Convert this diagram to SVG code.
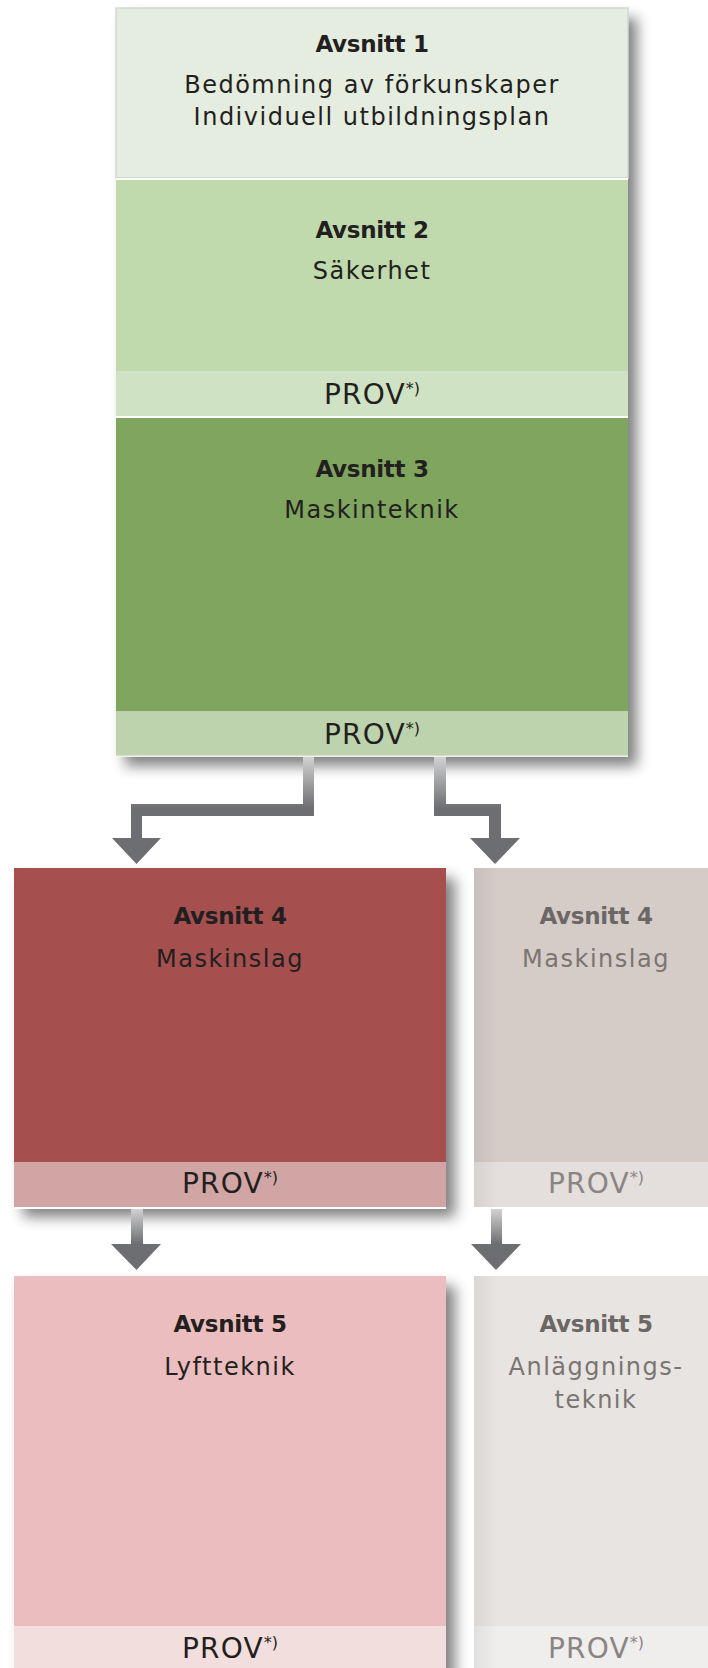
<svg xmlns="http://www.w3.org/2000/svg" width="708" height="1668" viewBox="0 0 708 1668">
  <defs>
    <filter id="shadow" x="-10%" y="-10%" width="130%" height="130%">
      <feGaussianBlur in="SourceAlpha" stdDeviation="7"/>
      <feOffset dx="9" dy="10" result="blur"/>
      <feComponentTransfer><feFuncA type="linear" slope="0.5"/></feComponentTransfer>
    </filter>
    <linearGradient id="stemTop" gradientUnits="userSpaceOnUse" x1="0" y1="757" x2="0" y2="808">
      <stop offset="0" stop-color="#d2d2d4"/>
      <stop offset="0.45" stop-color="#a5a6a8"/>
      <stop offset="1" stop-color="#6d6e71"/>
    </linearGradient>
    <linearGradient id="stemLow" gradientUnits="userSpaceOnUse" x1="0" y1="1209" x2="0" y2="1244">
      <stop offset="0" stop-color="#d2d2d4"/>
      <stop offset="0.5" stop-color="#a0a1a3"/>
      <stop offset="1" stop-color="#6d6e71"/>
    </linearGradient>
    <linearGradient id="edgeShade" x1="0" y1="0" x2="1" y2="0">
      <stop offset="0" stop-color="#000" stop-opacity="0.06"/>
      <stop offset="1" stop-color="#000" stop-opacity="0"/>
    </linearGradient>
  </defs>
  <style>
    .bold { font-family: "DejaVu Sans", "Liberation Sans", sans-serif; font-weight: bold; font-size: 23px; letter-spacing: -0.3px; text-anchor: middle; fill: #231f20; }
    .reg { font-family: "DejaVu Sans", "Liberation Sans", sans-serif; font-size: 24px; letter-spacing: 1.5px; text-anchor: middle; fill: #231f20; }
    .prov { font-family: "DejaVu Sans", "Liberation Sans", sans-serif; font-size: 28px; letter-spacing: 1.2px; text-anchor: middle; fill: #231f20; }
    .sup { font-size: 16px; letter-spacing: 0; }
    .fadedB { fill: #6b6766; }
    .faded { fill: #7a7473; }
    .fadedP { fill: #8a8584; }
    .shadowbox { fill: #000; filter: url(#shadow); }
    .stem { fill: #6d6e71; }
  </style>

  <!-- shadows -->
  <g id="shadows">
    <rect class="shadowbox" x="116" y="8" width="512" height="748"/>
    <rect class="shadowbox" x="14" y="868" width="432" height="339"/>
    <rect class="shadowbox" x="14" y="1276" width="432" height="400"/>
  </g>

  <!-- Top column: Avsnitt 1-3 -->
  <g id="avsnitt1">
    <rect x="116" y="8" width="512" height="170" fill="#e5ede0" stroke="#d3d7d1" stroke-width="1.5"/>
    <text class="bold" x="372" y="52">Avsnitt 1</text>
    <text class="reg" x="372" y="93">Bedömning av förkunskaper</text>
    <text class="reg" x="372" y="125">Individuell utbildningsplan</text>
  </g>
  <rect x="116" y="178" width="512" height="2" fill="#ffffff"/>
  <g id="avsnitt2">
    <rect x="116" y="180" width="512" height="191" fill="#c0d9ad"/>
    <rect x="116" y="371" width="512" height="45" fill="#d0e2c4"/>
    <text class="bold" x="372" y="238">Avsnitt 2</text>
    <text class="reg" x="372" y="279">Säkerhet</text>
    <text class="prov" x="372" y="404">PROV<tspan class="sup" dy="-10">*)</tspan></text>
  </g>
  <rect x="116" y="416" width="512" height="2" fill="#ffffff"/>
  <g id="avsnitt3">
    <rect x="116" y="418" width="512" height="293" fill="#7fa55e"/>
    <rect x="116" y="711" width="512" height="45" fill="#bdd3ad"/>
    <rect x="116" y="755.5" width="512" height="1.5" fill="#eef3ea"/>
    <text class="bold" x="372" y="477">Avsnitt 3</text>
    <text class="reg" x="372" y="518">Maskinteknik</text>
    <text class="prov" x="372" y="744">PROV<tspan class="sup" dy="-10">*)</tspan></text>
  </g>

  <!-- Left column -->
  <g id="avsnitt4-maskinslag">
    <rect x="14" y="868" width="432" height="294" fill="#a5504f"/>
    <rect x="14" y="1162" width="432" height="45" fill="#d1a5a4"/>
    <rect x="14" y="1207" width="432" height="2" fill="#ffffff"/>
    <text class="bold" x="230" y="924">Avsnitt 4</text>
    <text class="reg" x="230" y="967">Maskinslag</text>
    <text class="prov" x="230" y="1193">PROV<tspan class="sup" dy="-10">*)</tspan></text>
  </g>
  <g id="avsnitt5-lyftteknik">
    <rect x="14" y="1276" width="432" height="350" fill="#ebbdbe"/>
    <rect x="14" y="1626" width="432" height="42" fill="#f3dede"/>
    <text class="bold" x="230" y="1332">Avsnitt 5</text>
    <text class="reg" x="230" y="1375">Lyftteknik</text>
    <text class="prov" x="230" y="1658">PROV<tspan class="sup" dy="-10">*)</tspan></text>
  </g>

  <!-- Right column (faded) -->
  <g id="avsnitt4-right">
    <rect x="474" y="868" width="234" height="294" fill="#d5ccc8"/>
    <rect x="474" y="1162" width="234" height="45" fill="#e4dfdc"/>
    <rect x="474" y="868" width="24" height="339" fill="url(#edgeShade)"/>
    <text class="bold fadedB" x="596" y="924">Avsnitt 4</text>
    <text class="reg faded" x="596" y="967">Maskinslag</text>
    <text class="prov fadedP" x="596" y="1193">PROV<tspan class="sup" dy="-10">*)</tspan></text>
  </g>
  <g id="avsnitt5-right">
    <rect x="474" y="1276" width="234" height="350" fill="#e8e4e1"/>
    <rect x="474" y="1626" width="234" height="42" fill="#f0eeec"/>
    <rect x="474" y="1276" width="24" height="392" fill="url(#edgeShade)"/>
    <text class="bold fadedB" x="596" y="1332">Avsnitt 5</text>
    <text class="reg faded" x="596" y="1375">Anläggnings-</text>
    <text class="reg faded" x="596" y="1408">teknik</text>
    <text class="prov fadedP" x="596" y="1658">PROV<tspan class="sup" dy="-10">*)</tspan></text>
  </g>

  <!-- Connectors -->
  <g id="connectors">
    <path d="M303,757 H314 V816 H142 V839 H131 V804 H303 Z" fill="url(#stemTop)"/>
    <polygon class="stem" points="112,838 161,838 136.5,864"/>
    <path d="M434,757 H446 V804 H501 V839 H489 V816 H434 Z" fill="url(#stemTop)"/>
    <polygon class="stem" points="470,838 520,838 495,864"/>
    <rect x="131" y="1209" width="12" height="36" fill="url(#stemLow)"/>
    <polygon class="stem" points="111,1244 161,1244 136.5,1270"/>
    <rect x="491" y="1209" width="11" height="36" fill="url(#stemLow)"/>
    <polygon class="stem" points="471,1244 521,1244 496,1270"/>
  </g>
</svg>
